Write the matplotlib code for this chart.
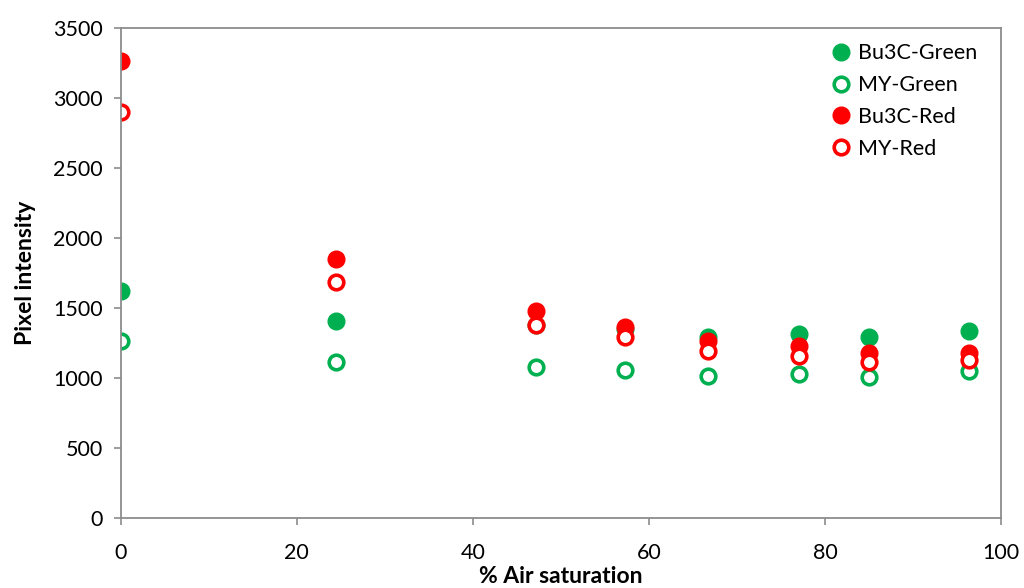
import matplotlib
matplotlib.use('Agg')
import matplotlib.pyplot as plt

plt.rcParams['font.family'] = ['Lato', 'DejaVu Sans']

air = [0, 24.4, 47.2, 57.3, 66.7, 77.0, 85.0, 96.4]
bu3c_green = [1621, 1407, 1379, 1350, 1293, 1314, 1293, 1336]
my_green = [1264, 1114, 1079, 1057, 1014, 1029, 1007, 1050]
bu3c_red = [3264, 1850, 1479, 1364, 1264, 1229, 1179, 1179]
my_red = [2900, 1686, 1379, 1293, 1193, 1157, 1114, 1129]

green = '#00b050'
red = '#ff0000'

fig = plt.figure(figsize=(10.24, 5.88), dpi=100)
ax = fig.add_axes([0.118, 0.119, 0.8595, 0.833])

ax.plot(air, bu3c_green, 'o', ms=12, color=green, mec=green, label='Bu3C-Green')
ax.plot(air, my_green, 'o', ms=10.5, mfc='white', mec=green, mew=2.6, label='MY-Green')
ax.plot(air, bu3c_red, 'o', ms=12, color=red, mec=red, label='Bu3C-Red')
ax.plot(air, my_red, 'o', ms=10.5, mfc='white', mec=red, mew=2.6, label='MY-Red')

ax.set_xlim(0, 100)
ax.set_ylim(0, 3500)
ax.set_xticks(range(0, 101, 20))
ax.set_yticks(range(0, 3501, 500))
for s in ax.spines.values():
    s.set_color('#8c8c8c')
    s.set_linewidth(1.3)
ax.tick_params(colors='#8c8c8c', labelcolor='black', labelsize=15.5, length=5, width=1.2)
ax.tick_params(axis='x', pad=13)
ax.tick_params(axis='y', pad=8)

ax.set_xlabel('% Air saturation', fontsize=16.5, fontweight='bold', labelpad=2)
ax.set_ylabel('Pixel intensity', fontsize=16.5, fontweight='bold', labelpad=12)

ax.legend(loc='upper right', bbox_to_anchor=(0.99, 1.0), frameon=False, fontsize=15.5,
          handletextpad=0.1, labelspacing=0.55, handlelength=1.4, borderaxespad=0.3)

fig.savefig('out.png', dpi=100)
